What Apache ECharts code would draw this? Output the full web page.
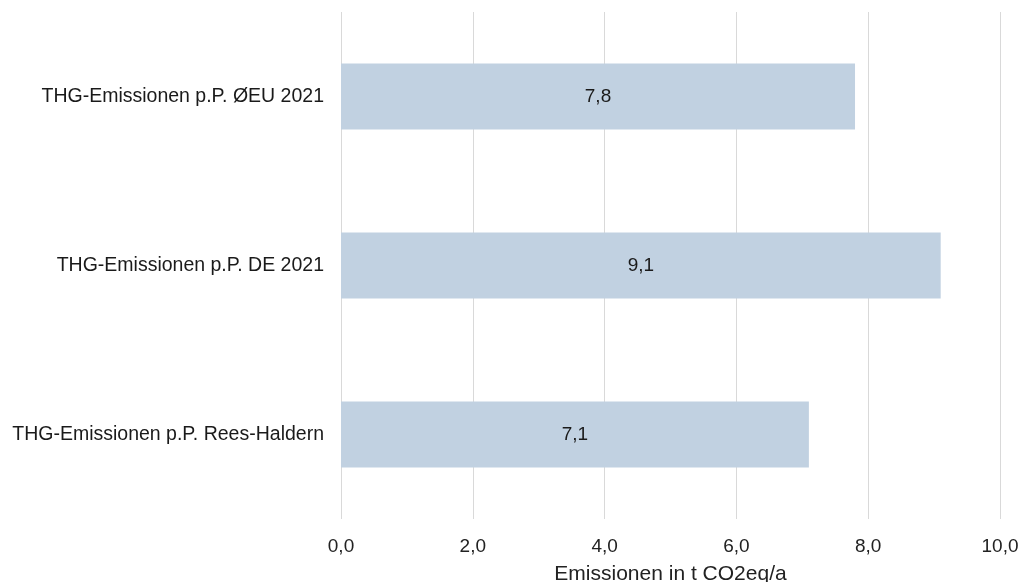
<!DOCTYPE html>
<html>
<head>
<meta charset="utf-8">
<script src="https://cdn.jsdelivr.net/npm/echarts@6/dist/echarts.min.js"></script>
<style>html,body{margin:0;padding:0;background:#fff}#c{width:1018px;height:582px}</style>
</head>
<body>
<div id="c"></div>
<script>
const categories = ['THG-Emissionen p.P. Rees-Haldern', 'THG-Emissionen p.P. DE 2021', 'THG-Emissionen p.P. ØEU 2021'];
const values = [7.1, 9.1, 7.8];
const axisName = 'Emissionen in t CO2eq/a';
const fmt = v => v.toFixed(1).replace('.', ',');

const chart = echarts.init(document.getElementById('c'));
chart.setOption({
  animation: false,
  textStyle: { fontFamily: 'Liberation Sans, Arial, sans-serif' },
  grid: { left: 341, right: 18, top: 12, bottom: 63, containLabel: false, outerBoundsMode: 'none' },
  xAxis: {
    type: 'value', min: 0, max: 10, interval: 2,
    axisLine: { show: false }, axisTick: { show: false },
    splitLine: { show: true, lineStyle: { color: '#d9d9d9', width: 1 } },
    axisLabel: { formatter: fmt, color: '#222222', fontSize: 19, margin: 18 },
    name: axisName, nameLocation: 'middle', nameGap: 45,
    nameTextStyle: { color: '#222222', fontSize: 21 }
  },
  yAxis: {
    type: 'category', data: categories,
    axisLine: { show: false }, axisTick: { show: false },
    axisLabel: { color: '#1a1a1a', fontSize: 19.5, margin: 17 }
  },
  series: [{
    type: 'bar', data: values, barCategoryGap: '61%',
    itemStyle: { color: '#c1d1e1' },
    label: { show: true, position: 'inside', formatter: p => fmt(p.value), color: '#1a1a1a', fontSize: 19 }
  }]
});
</script>
</body>
</html>
